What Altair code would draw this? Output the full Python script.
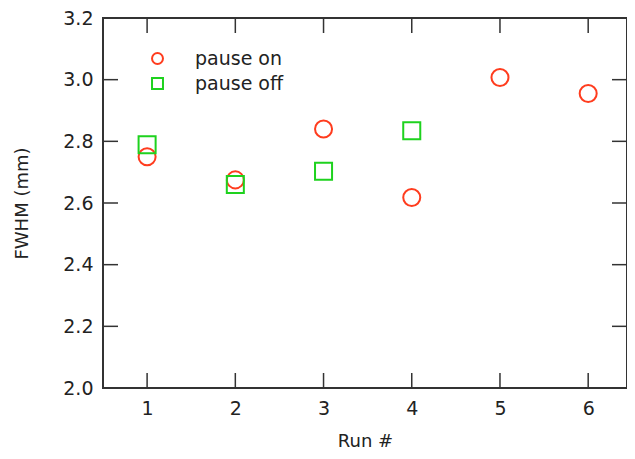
import altair as alt
import pandas as pd

runs_on = [1, 2, 3, 4, 5, 6]
fwhm_on = [2.75, 2.675, 2.84, 2.618, 3.007, 2.955]
runs_off = [1, 2, 3, 4]
fwhm_off = [2.789, 2.66, 2.703, 2.834]
series = ["pause on", "pause off"]
colors = ["#ff3c1e", "#1ed21e"]
shapes = ["circle", "square"]
x_ticks = [1, 2, 3, 4, 5, 6]
y_ticks = [2.0, 2.2, 2.4, 2.6, 2.8, 3.0, 3.2]

FONT = "DejaVu Sans"
W, H = 524, 370

df = pd.DataFrame(
    {"run": runs_on + runs_off,
     "fwhm": fwhm_on + fwhm_off,
     "series": ["pause on"] * len(runs_on) + ["pause off"] * len(runs_off)}
)
xt = pd.DataFrame({"t": x_ticks})
yt = pd.DataFrame({"t": y_ticks})

xs = alt.Scale(domain=[0.5, 6.44], nice=False, zero=False)
ys = alt.Scale(domain=[2.0, 3.2], nice=False, zero=False)

x_axis = alt.Axis(values=x_ticks, ticks=False, domain=False, grid=False, labelPadding=11,
                  labelFontSize=19, labelFont=FONT, labelColor="#222", title="Run #",
                  titleFont=FONT, titleFontSize=18, titleFontWeight="normal", titleColor="#222",
                  titlePadding=14, format="d")
y_axis = alt.Axis(values=y_ticks, ticks=False, domain=False, grid=False, labelPadding=10,
                  labelFontSize=19, labelFont=FONT, labelColor="#222", title="FWHM (mm)",
                  titleFont=FONT, titleFontSize=18, titleFontWeight="normal", titleColor="#222",
                  titlePadding=31, format=".1f")

points = alt.Chart(df).mark_point(filled=False, strokeWidth=2, opacity=1, size=290).encode(
    x=alt.X("run:Q", scale=xs, axis=x_axis),
    y=alt.Y("fwhm:Q", scale=ys, axis=y_axis),
    color=alt.Color("series:N", scale=alt.Scale(domain=series, range=colors),
                    legend=alt.Legend(title=None, orient="none", legendX=45, legendY=31,
                                      labelFont=FONT, labelFontSize=19, labelColor="#222",
                                      symbolSize=120, symbolStrokeWidth=2, labelOffset=28,
                                      rowPadding=5, padding=0)),
    shape=alt.Shape("series:N", scale=alt.Scale(domain=series, range=shapes)),
)

tick_style = dict(color="#333", strokeWidth=1.5)
xb = alt.Chart(xt).mark_rule(**tick_style).encode(x=alt.X("t:Q", scale=xs, axis=x_axis), y=alt.value(H), y2=alt.value(H - 15))
xtop = alt.Chart(xt).mark_rule(**tick_style).encode(x=alt.X("t:Q", scale=xs, axis=x_axis), y=alt.value(0), y2=alt.value(15))
yl = alt.Chart(yt).mark_rule(**tick_style).encode(y=alt.Y("t:Q", scale=ys, axis=y_axis), x=alt.value(0), x2=alt.value(15))
yr = alt.Chart(yt).mark_rule(**tick_style).encode(y=alt.Y("t:Q", scale=ys, axis=y_axis), x=alt.value(W), x2=alt.value(W - 15))

chart = alt.layer(points, xb, xtop, yl, yr).properties(
    width=W, height=H, autosize="none", background="white",
    padding={"left": 95, "top": 10, "right": 0, "bottom": 63},
).configure_view(stroke="#333", strokeWidth=2)

chart.save("out.html", embed_options={"renderer": "svg", "actions": False})
